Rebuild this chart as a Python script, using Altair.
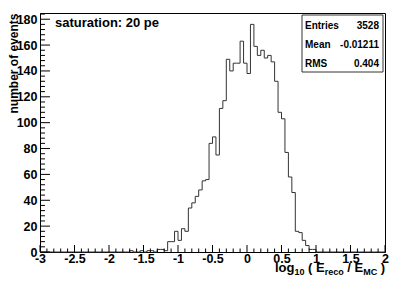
import altair as alt
import pandas as pd

# ---- data ----
x_min, x_max, bin_width = -3.0, 2.0, 0.05
counts = (
    [0] * 26
    + [1, 0, 0, 1, 0, 1, 1, 0, 2, 2, 1,
       8, 8, 16, 9, 18, 16,
       34, 38, 43, 48, 55, 56,
       84, 89, 75, 111, 117,
       149, 140, 146, 146, 163, 146, 138,
       176, 159, 152, 156, 150, 152, 147,
       132, 108, 103, 77, 58, 46,
       16, 15, 9, 5, 2, 2]
    + [0] * 20
)
x_major = [-3, -2.5, -2, -1.5, -1, -0.5, 0, 0.5, 1, 1.5, 2]
y_major = [0, 20, 40, 60, 80, 100, 120, 140, 160, 180]
title_text = "saturation: 20 pe"
stats_names = ["Entries", "Mean", "RMS"]
stats_values = ["3528", "-0.01211", "0.404"]

# ---- derived tables ----
edges = [round(x_min + bin_width * i, 4) for i in range(len(counts) + 1)]
hist = pd.DataFrame({"edge": edges, "count": counts + [counts[-1]]})
x_minor = [round(x_min + 0.1 * i, 2) for i in range(51)]
x_minor = [v for v in x_minor if all(abs(v - m) > 1e-6 for m in x_major)]
y_minor = [v for v in range(0, 185, 4) if v % 20 != 0]

W, H = 345, 239
FONT = "Liberation Sans"
y_top = 184.8

xs = alt.Scale(domain=[x_min, x_max], nice=False, zero=False)
ys = alt.Scale(domain=[0, y_top], nice=False)

x_axis = alt.Axis(values=x_major, labelExpr="toString(datum.value)", ticks=False, grid=False,
                  labelFont=FONT, labelFontSize=12.5, labelFontWeight="bold", labelColor="black",
                  labelPadding=0, domainColor="black", title=None, labelFlush=False,
                  labelOverlap=False)
y_axis = alt.Axis(values=y_major, ticks=False, grid=False,
                  labelFont=FONT, labelFontSize=12.5, labelFontWeight="bold", labelColor="black",
                  labelPadding=3, domainColor="black", labelOverlap=False,
                  title="number of events", titleFont=FONT, titleFontSize=12, titleFontWeight="bold",
                  titleColor="black", titleAngle=270, titleAlign="right", titleBaseline="alphabetic",
                  titleX=-22.5, titleY=0, labelFlush=False)

line = alt.Chart(hist).mark_line(interpolate="step-after", color="#333", strokeWidth=1).encode(
    x=alt.X("edge:Q", scale=xs, axis=x_axis),
    y=alt.Y("count:Q", scale=ys, axis=y_axis),
)

def xticks(vals, length):
    return alt.Chart(pd.DataFrame({"v": vals})).mark_rule(color="black", strokeWidth=1).encode(
        x=alt.X("v:Q", scale=xs, axis=x_axis), y=alt.value(H), y2=alt.value(H - length))

def yticks(vals, length):
    return alt.Chart(pd.DataFrame({"v": vals})).mark_rule(color="black", strokeWidth=1).encode(
        y=alt.Y("v:Q", scale=ys, axis=y_axis), x=alt.value(0), x2=alt.value(length))

def label(text, x, y, size, align="left"):
    return alt.Chart(pd.DataFrame({"t": [text]})).mark_text(
        font=FONT, fontSize=size, fontWeight="bold", color="black", align=align, baseline="alphabetic"
    ).encode(x=alt.value(x), y=alt.value(y), text="t:N")

box = alt.Chart(pd.DataFrame({"a": [0]})).mark_rect(fill="white", stroke="#333", strokeWidth=1).encode(
    x=alt.value(262), x2=alt.value(343), y=alt.value(2), y2=alt.value(59))

layers = [line, xticks(x_major, 7), xticks(x_minor, 3.5), yticks(y_major, 10), yticks(y_minor, 5),
          label(title_text, 15, 13.5, 13), box]
rows_y = [15.5, 34.5, 53.5]
for n, v, yy in zip(stats_names, stats_values, rows_y):
    layers.append(label(n, 265, yy, 10))
    layers.append(label(v, 339, yy, 10, align="right"))

# x-axis title with subscripts: log10 ( Ereco / EMC )
base_y, sub_y = 258.5, 261.5
pieces = [("log", 235, base_y, 13), ("10", 254.5, sub_y, 9), ("(", 268.1, base_y, 13),
          ("E", 276, base_y, 13), ("reco", 284.7, sub_y, 9), ("/", 307.3, base_y, 13),
          ("E", 314.5, base_y, 13), ("MC", 323.2, sub_y, 9), (")", 340.8, base_y, 13)]
for t, x, y, s in pieces:
    layers.append(label(t, x, y, s))

chart = alt.layer(*layers).properties(
    width=W, height=H,
    autosize=alt.AutoSizeParams(type="none"),
    padding={"left": 32, "top": 5, "right": 10, "bottom": 26},
    background="white",
).configure_view(stroke="black", strokeWidth=1)

chart.save("out.html", embed_options={"renderer": "svg", "actions": False})
